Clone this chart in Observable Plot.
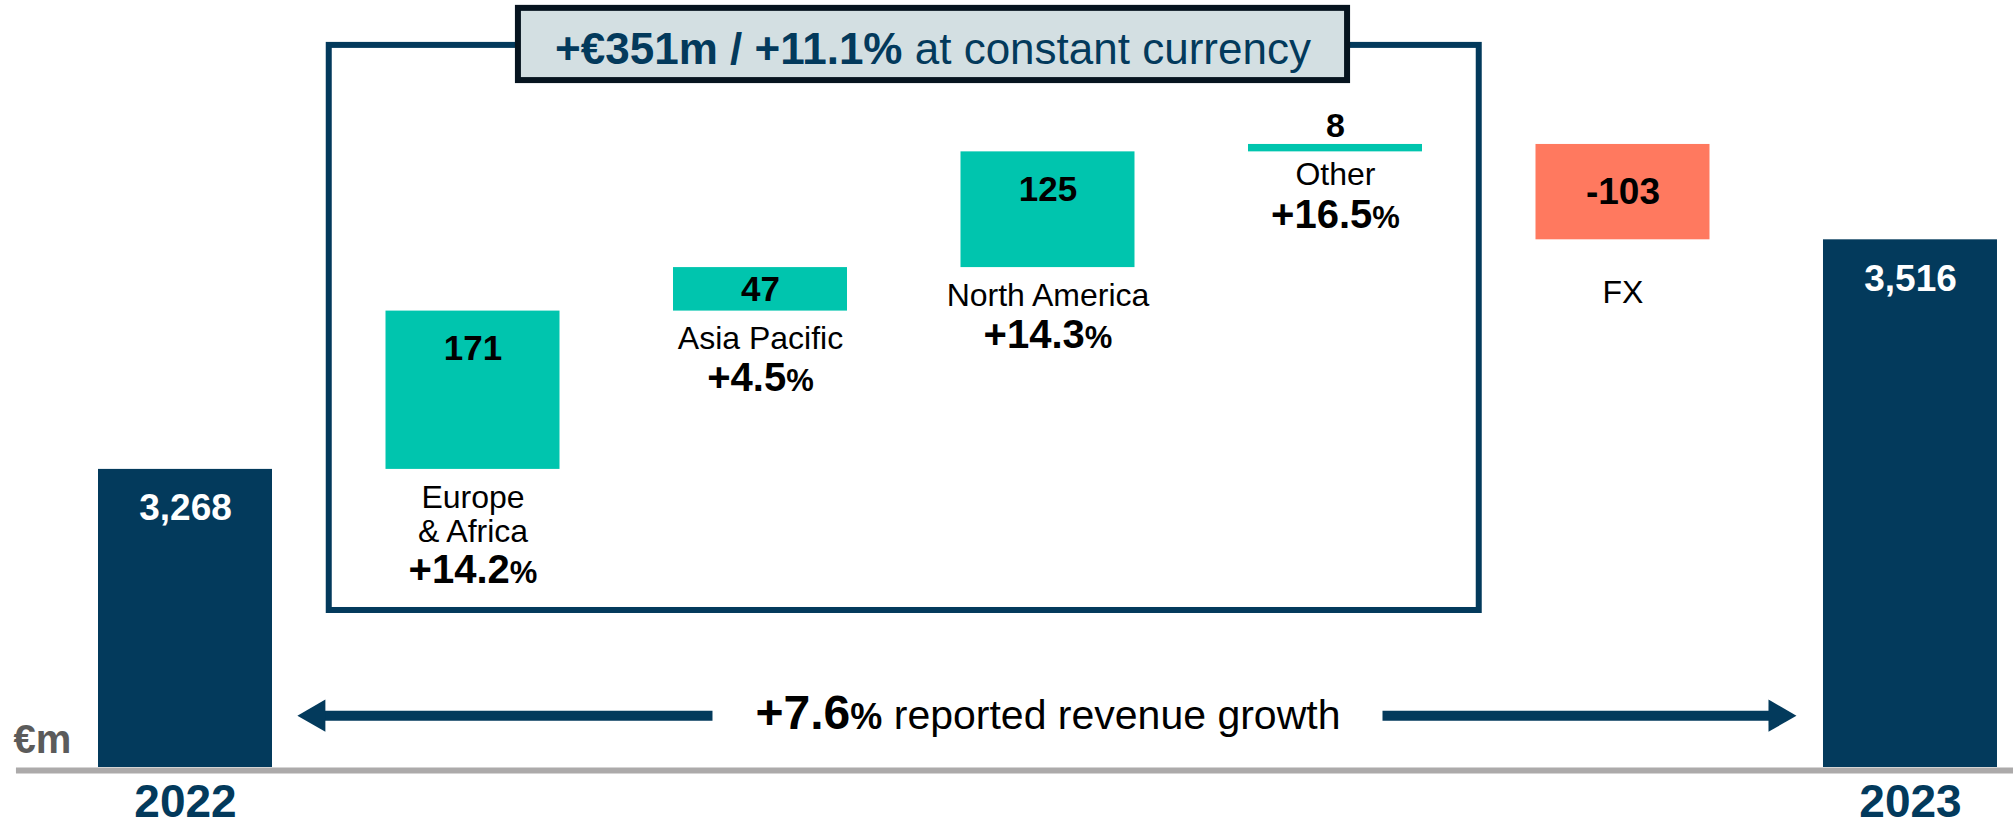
<!DOCTYPE html>
<html><head><meta charset="utf-8">
<script src="https://cdn.jsdelivr.net/npm/d3@7"></script>
<script src="https://cdn.jsdelivr.net/npm/@observablehq/plot@0.6"></script>
<style>html,body{margin:0;padding:0;background:#fff;} #chart{width:2013px;height:825px;}</style>
</head><body><div id="chart"></div>
<script>
// ---- data ----
const categories = ["2022", "Europe & Africa", "Asia Pacific", "North America", "Other", "FX", "2023"];
const displayLabels = ["", "Europe\n& Africa", "Asia Pacific", "North America", "Other", "FX", ""];
const values = [3268, 171, 47, 125, 8, -103, 3516];
const kinds = ["total", "delta", "delta", "delta", "delta", "delta", "total"];
const growthLabels = [null, "+14.2%", "+4.5%", "+14.3%", "+16.5%", null, null];
const titleText = "+€351m / +11.1% at constant currency";
const arrowText = "+7.6% reported revenue growth";
const unitText = "€m";

// ---- styles / layout ----
const NAVY = "#033a5c", TEAL = "#00c5ae", SALMON = "#ff795f", BOXFILL = "#d3dfe2", BOXSTROKE = "#06141f", GREY = "#acaaaa";
const FONT = "'Liberation Sans', Arial, Helvetica, sans-serif";
const yBase = 2946, yTop = 3774.5;
const HALF = 0.3026;

// waterfall table
let run = 0;
const rows = categories.map((c, i) => {
  const r = {i, cat: c, label: displayLabels[i], value: values[i], kind: kinds[i], growth: growthLabels[i]};
  if (r.kind === "total") { r.lo = yBase; r.hi = r.value; run = r.value; }
  else { const s = run; run += r.value; r.lo = Math.min(s, run); r.hi = Math.max(s, run); }
  return r;
});
const fmt = v => d3.format(",")(v).replace("\u2212", "-");
const deltas = rows.filter(d => d.kind === "delta");
const pos = deltas.filter(d => d.value > 0);

// annotation layout (data units)
const frameBox = [{x1: 0.5, x2: 4.5, y1: 3115.6, y2: 3726}];
const titleBox = [{x1: 1.158, x2: 4.042, y1: 3688, y2: 3766}];
const titleAt = [{x: 2.6, y: 3721, t: titleText}];
const arrowY = 3002;
const shafts = [{x1: 0.454, x2: 1.833}, {x1: 4.1635, x2: 5.5385}];
const arrowTextAt = [{x: 3, y: arrowY, t: arrowText}];
const unitAt = [{x: -0.598, y: 2962, t: unitText}];
const baseLine = [{x1: -0.588, x2: 6.3583, y: yBase}];

const chart = Plot.plot({
  width: 2013, height: 825,
  marginLeft: 0, marginRight: 0, marginTop: 0, marginBottom: 58,
  style: {fontFamily: FONT, background: "#fff", overflow: "visible"},
  x: {domain: [-0.6435, 6.3583], axis: null},
  y: {domain: [yBase, yTop], axis: null},
  color: {type: "identity"},
  marks: [
    // frame for constant-currency section
    Plot.rect(frameBox, {x1: "x1", x2: "x2", y1: "y1", y2: "y2", fill: "none", stroke: NAVY, strokeWidth: 6}),
    Plot.rect(titleBox, {x1: "x1", x2: "x2", y1: "y1", y2: "y2", fill: BOXFILL, stroke: BOXSTROKE, strokeWidth: 6}),
    Plot.text(titleAt, {x: "x", y: "y", text: "t", fontSize: 44, fill: NAVY, lineAnchor: "middle"}),
    // bars
    Plot.rectY(rows, {x1: d => d.i - HALF, x2: d => d.i + HALF, y1: "lo", y2: "hi",
      fill: d => d.kind === "total" ? NAVY : d.value < 0 ? SALMON : TEAL}),
    // baseline
    Plot.ruleY(baseLine, {y: "y", x1: "x1", x2: "x2", stroke: GREY, strokeWidth: 6, dy: 3}),
    // value labels
    Plot.text(rows.filter(d => d.kind === "total"), {x: "i", y: "hi", dy: 39, text: d => fmt(d.value), fill: "#fff", fontSize: 37, fontWeight: "bold"}),
    Plot.text(pos.filter(d => d.hi - d.lo >= 100), {x: "i", y: "hi", dy: 38, text: d => fmt(d.value), fill: "#000", fontSize: 35, fontWeight: "bold"}),
    Plot.text(pos.filter(d => d.hi - d.lo >= 20 && d.hi - d.lo < 100), {x: "i", y: d => (d.lo + d.hi) / 2, text: d => fmt(d.value), fill: "#000", fontSize: 35, fontWeight: "bold"}),
    Plot.text(pos.filter(d => d.hi - d.lo < 20), {x: "i", y: "hi", dy: -18, text: d => fmt(d.value), fill: "#000", fontSize: 34, fontWeight: "bold"}),
    Plot.text(deltas.filter(d => d.value < 0), {x: "i", y: d => (d.lo + d.hi) / 2, text: d => fmt(d.value), fill: "#000", fontSize: 37, fontWeight: "bold"}),
    // category names
    Plot.text(pos.filter(d => d.hi - d.lo >= 20), {x: "i", y: "lo", dy: 14, text: "label", lineAnchor: "top", lineHeight: 1.0625, fontSize: 32, fill: "#000"}),
    Plot.text(pos.filter(d => d.hi - d.lo < 20), {x: "i", y: "lo", dy: 9, text: "label", lineAnchor: "top", lineHeight: 1.0625, fontSize: 32, fill: "#000"}),
    Plot.text(deltas.filter(d => d.value < 0), {x: "i", y: "lo", dy: 39, text: "label", lineAnchor: "top", lineHeight: 1.0625, fontSize: 32, fill: "#000"}),
    // growth percentages
    Plot.text(pos.filter(d => d.growth && !d.label.includes("\n") && d.hi - d.lo >= 20), {x: "i", y: "lo", dy: 80, text: "growth", lineAnchor: "bottom", fontSize: 40, fontWeight: "bold", fill: "#000"}),
    Plot.text(pos.filter(d => d.growth && d.hi - d.lo < 20), {x: "i", y: "lo", dy: 76, text: "growth", lineAnchor: "bottom", fontSize: 40, fontWeight: "bold", fill: "#000"}),
    Plot.text(pos.filter(d => d.growth && d.label.includes("\n")), {x: "i", y: "lo", dy: 114, text: "growth", lineAnchor: "bottom", fontSize: 40, fontWeight: "bold", fill: "#000"}),
    // reported growth arrow
    Plot.link(shafts, {x1: "x1", x2: "x2", y1: arrowY, y2: arrowY, stroke: NAVY, strokeWidth: 10}),
    Plot.dot([shafts[0]], {x: "x1", y: arrowY, symbol: "triangle", r: 12, fill: NAVY, stroke: "none", rotate: -90}),
    Plot.dot([shafts[1]], {x: "x2", y: arrowY, symbol: "triangle", r: 12, fill: NAVY, stroke: "none", rotate: 90}),
    Plot.text(arrowTextAt, {x: "x", y: "y", text: "t", fontSize: 41, fill: "#000", lineAnchor: "middle"}),
    // unit label
    Plot.text(unitAt, {x: "x", y: "y", text: "t", textAnchor: "start", lineAnchor: "bottom", fontSize: 40, fontWeight: "bold", fill: "#5b5b5b"}),
    // x axis (years)
    Plot.axisX({ticks: [0, 6], tickFormat: i => categories[i], tickSize: 0, tickPadding: 17, fontSize: 46, fontWeight: "bold", fill: NAVY})
  ]
});
document.getElementById("chart").appendChild(chart);

// rich text: mixed weights / sizes inside a single label
function rich(match, parts) {
  d3.select(chart).selectAll("text").filter(function () { return match(this.textContent) && this.children.length === 0; })
    .each(function () {
      const full = this.textContent;
      const t = d3.select(this); t.text(null);
      for (const p of parts(full)) {
        const s = t.append("tspan").text(p.text);
        if (p.weight) s.attr("font-weight", p.weight);
        if (p.size) s.attr("font-size", p.size);
      }
    });
}
rich(s => s === titleText, () => [
  {text: "+€351m / +11.1%", weight: "bold"},
  {text: " at constant currency", weight: "normal"}
]);
rich(s => s === arrowText, () => [
  {text: "+7.6", weight: "bold", size: 48},
  {text: "%", weight: "bold", size: 36},
  {text: " reported revenue growth", weight: "normal"}
]);
rich(s => /^\+[\d.]+%$/.test(s), s => [
  {text: s.slice(0, -1)},
  {text: "%", size: 31}
]);
</script></body></html>
